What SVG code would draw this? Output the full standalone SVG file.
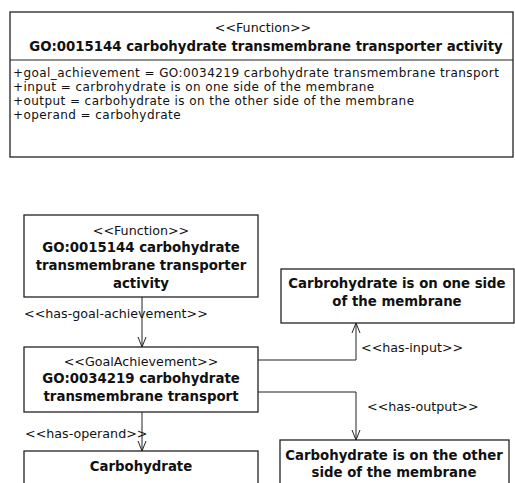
<svg xmlns="http://www.w3.org/2000/svg" width="515" height="483" viewBox="0 0 515 483">
<defs>
<style>
.box{fill:#fff;stroke:#222;stroke-width:1.3}
.t{font-family:"DejaVu Sans","Liberation Sans",sans-serif;font-size:12.7px;fill:#111}
.a{font-size:12px;letter-spacing:0.43px}
.b{font-weight:bold;font-size:13.3px}
.c{text-anchor:middle}
.ln{fill:none;stroke:#222;stroke-width:1}
</style>
<marker id="ah" viewBox="0 0 10 10" refX="10" refY="5" markerWidth="10" markerHeight="10" markerUnits="userSpaceOnUse" orient="auto">
<path d="M0,1 L10,5 L0,9" fill="none" stroke="#222" stroke-width="1"/>
</marker>
</defs>
<rect width="515" height="483" fill="#fff"/>
<g id="top-class">
<rect class="box" x="10" y="12" width="503" height="145"/>
<line class="ln" x1="10" y1="60" x2="513" y2="60"/>
<text class="t c" x="263" y="32">&lt;&lt;Function&gt;&gt;</text>
<text class="t b c" x="266" y="51">GO:0015144 carbohydrate transmembrane transporter activity</text>
<text class="t a" x="13" y="77">+goal_achievement = GO:0034219 carbohydrate transmembrane transport</text>
<text class="t a" x="13" y="91">+input = carbrohydrate is on one side of the membrane</text>
<text class="t a" x="13" y="105">+output = carbohydrate is on the other side of the membrane</text>
<text class="t a" x="13" y="119">+operand = carbohydrate</text>
</g>
<g id="connectors">
<line class="ln" x1="142" y1="297" x2="142" y2="347" marker-end="url(#ah)"/>
<line class="ln" x1="142" y1="412" x2="142" y2="451" marker-end="url(#ah)"/>
<polyline class="ln" points="258,360 356,360 356,323" marker-end="url(#ah)"/>
<polyline class="ln" points="258,392 356,392 356,440" marker-end="url(#ah)"/>
<text class="t" x="24" y="318">&lt;&lt;has-goal-achievement&gt;&gt;</text>
<text class="t" x="25" y="438">&lt;&lt;has-operand&gt;&gt;</text>
<text class="t" x="361" y="352">&lt;&lt;has-input&gt;&gt;</text>
<text class="t" x="367" y="411">&lt;&lt;has-output&gt;&gt;</text>
</g>
<g id="function">
<rect class="box" x="24" y="215" width="234" height="82"/>
<text class="t c" x="141" y="235">&lt;&lt;Function&gt;&gt;</text>
<text class="t b c" x="141" y="252">GO:0015144 carbohydrate</text>
<text class="t b c" x="141" y="270">transmembrane transporter</text>
<text class="t b c" x="141" y="288">activity</text>
</g>
<g id="goal-achievement">
<rect class="box" x="24" y="347" width="234" height="65"/>
<text class="t c" x="141" y="366">&lt;&lt;GoalAchievement&gt;&gt;</text>
<text class="t b c" x="141" y="383">GO:0034219 carbohydrate</text>
<text class="t b c" x="141" y="401">transmembrane transport</text>
</g>
<g id="input">
<rect class="box" x="281" y="269" width="233" height="54"/>
<text class="t b c" x="397" y="288">Carbrohydrate is on one side</text>
<text class="t b c" x="397" y="306">of the membrane</text>
</g>
<g id="carbohydrate">
<rect class="box" x="24" y="451" width="234" height="40"/>
<text class="t b c" x="141" y="471">Carbohydrate</text>
</g>
<g id="output">
<rect class="box" x="280" y="440" width="229" height="50"/>
<text class="t b c" x="394" y="460">Carbohydrate is on the other</text>
<text class="t b c" x="394" y="477">side of the membrane</text>
</g>
</svg>
